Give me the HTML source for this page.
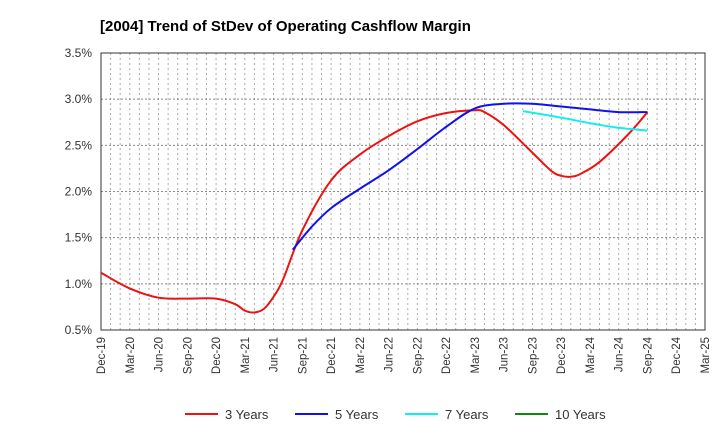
<!DOCTYPE html>
<html><head><meta charset="utf-8"><style>
body{margin:0;background:#fff;font-family:"Liberation Sans",sans-serif}
</style></head><body>
<svg id="c" width="720" height="440" xmlns="http://www.w3.org/2000/svg" font-family="Liberation Sans, sans-serif">
<text x="100" y="31" font-size="15" font-weight="bold" fill="#000">[2004]  Trend of StDev of Operating Cashflow Margin</text>
<g id="grid"></g><g id="axes"></g><g id="series"></g><g id="legend"></g>
</svg>
<script>
const xTickLabels=["Dec-19","Mar-20","Jun-20","Sep-20","Dec-20","Mar-21","Jun-21","Sep-21","Dec-21","Mar-22","Jun-22","Sep-22","Dec-22","Mar-23","Jun-23","Sep-23","Dec-23","Mar-24","Jun-24","Sep-24","Dec-24","Mar-25"];
const yTicks=[0.5,1.0,1.5,2.0,2.5,3.0,3.5];
const m3=[0,3,6,9,12,14,15,16,17,18,19,21,24,27,30,33,36,39,40,42,45,47,48,49,50,52,55,57];
const v3=[1.12,0.95,0.85,0.84,0.84,0.78,0.71,0.69,0.73,0.86,1.05,1.58,2.12,2.40,2.60,2.76,2.85,2.88,2.86,2.72,2.42,2.22,2.17,2.16,2.19,2.32,2.62,2.86];
const m5=[20,22,24,27,30,33,36,39,42,45,48,51,54,57];
const v5=[1.37,1.62,1.82,2.03,2.23,2.46,2.70,2.90,2.95,2.95,2.92,2.89,2.86,2.86];
const m7=[44,48,51,54,57];
const v7=[2.87,2.80,2.74,2.69,2.66];
const m10=[];const v10=[];
const L=101,R=705,T=53,B=330,NM=63;
const xs=i=>L+i*(R-L)/NM;
const ys=v=>B-(v-0.5)*(B-T)/3;
const NS="http://www.w3.org/2000/svg";
function mk(p,t,a){const e=document.createElementNS(NS,t);for(const k in a)e.setAttribute(k,a[k]);p.appendChild(e);return e;}
const grid=document.getElementById('grid'),axes=document.getElementById('axes'),ser=document.getElementById('series'),leg=document.getElementById('legend');
for(let i=1;i<NM;i++){const l=mk(grid,'line',{x1:xs(i),x2:xs(i),y1:T,y2:B,stroke:'#aaa','stroke-dasharray':'2,3','stroke-width':1});

}
yTicks.forEach(v=>{const y=ys(v);
if(v>0.5&&v<3.5){const l=mk(grid,'line',{x1:L,x2:R,y1:y,y2:y,stroke:'#888','stroke-dasharray':'2,2'});

}
const t=mk(axes,'text',{x:92,y:y+4,'font-size':12,'text-anchor':'end',fill:'#333'});t.textContent=v.toFixed(1)+'%';

});
const fr=mk(axes,'rect',{x:L,y:T,width:R-L,height:B-T,fill:'none',stroke:'#333','stroke-width':1});


xTickLabels.forEach((s,i)=>{const x=xs(i*3);const t=mk(axes,'text',{x:0,y:0,'font-size':11.5,'text-anchor':'end',fill:'#333',transform:`translate(${x+4},${B+7}) rotate(-90)`});t.textContent=s;

});
function path(ms,vs){const p=ms.map((m,i)=>[xs(m),ys(vs[i])]);if(!p.length)return'';let d=`M${p[0][0]},${p[0][1]}`;
for(let i=0;i<p.length-1;i++){const p0=p[i-1]||p[i],p1=p[i],p2=p[i+1],p3=p[i+2]||p2;
d+=` C${p1[0]+(p2[0]-p0[0])/6},${p1[1]+(p2[1]-p0[1])/6} ${p2[0]-(p3[0]-p1[0])/6},${p2[1]-(p3[1]-p1[1])/6} ${p2[0]},${p2[1]}`;}return d;}
const S=[[m3,v3,'#ee1111','3 Years','series-3-years'],[m5,v5,'#1111ee','5 Years','series-5-years'],[m7,v7,'#11eeee','7 Years','series-7-years'],[m10,v10,'#118811','10 Years','series-10-years']];
S.forEach((s,k)=>{if(s[0].length){const p=mk(ser,'path',{d:path(s[0],s[1]),fill:'none',stroke:s[2],'stroke-width':2});

}
const lx=185+k*110;
const g=mk(leg,'g',{});


mk(g,'line',{x1:lx,x2:lx+33,y1:414,y2:414,stroke:s[2],'stroke-width':2});
const t=mk(g,'text',{x:lx+40,y:419,'font-size':13,fill:'#333'});t.textContent=s[3];});
</script>
</body></html>
